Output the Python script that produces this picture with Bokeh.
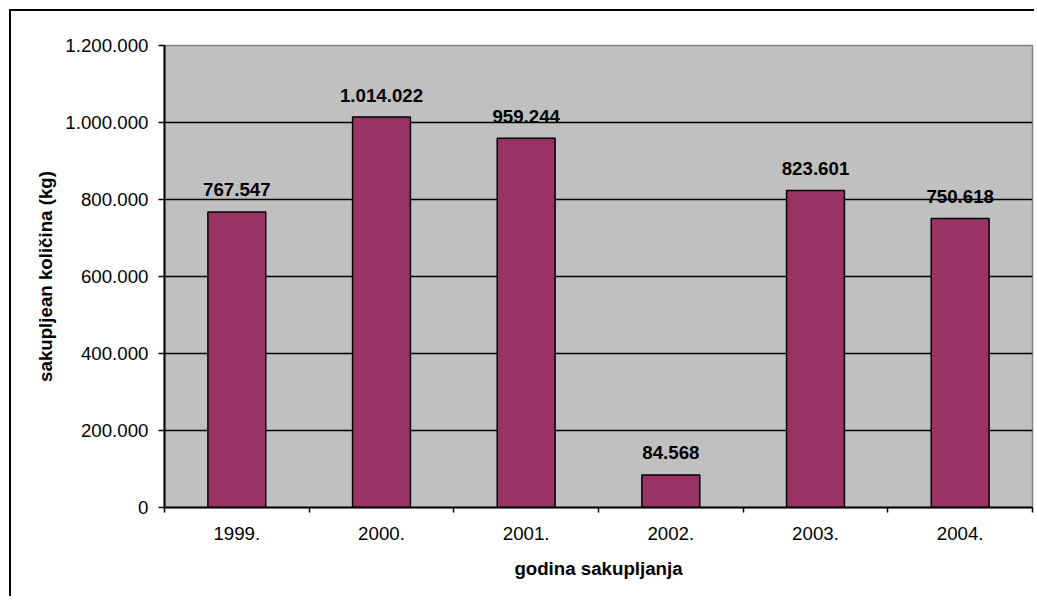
from bokeh.plotting import figure
from bokeh.models import ColumnDataSource, FixedTicker, Range1d
from bokeh.core.properties import value
from bokeh.embed import file_html
from bokeh.resources import INLINE

years = ["1999.", "2000.", "2001.", "2002.", "2003.", "2004."]
amounts = [767547, 1014022, 959244, 84568, 823601, 750618]
y_ticks = [0, 200000, 400000, 600000, 800000, 1000000, 1200000]
y_tick_labels = ["0", "200.000", "400.000", "600.000", "800.000", "1.000.000", "1.200.000"]

FONT = "Liberation Sans"
FS = "18.7px"

xs = [i + 0.5 for i in range(len(years))]
labels = [f"{v:,}".replace(",", ".") for v in amounts]
src = ColumnDataSource(dict(x=xs, top=amounts, label=labels))

p = figure(width=1025, height=587, output_backend="svg", toolbar_location=None,
           x_range=Range1d(0, len(years)), y_range=Range1d(0, 1200000),
           min_border_left=153, min_border_right=4, min_border_top=34, min_border_bottom=91)
p.styles = {"margin-left": "9px", "margin-top": "9px",
            "border-left": "2px solid black", "border-top": "2px solid black"}

p.background_fill_color = "#C0C0C0"
p.border_fill_color = "white"
p.outline_line_color = "#808080"
p.outline_line_width = 1.5

p.vbar(x="x", top="top", width=0.4, bottom=0, source=src,
       fill_color="#993366", line_color="black", line_width=1.5)

p.text(x="x", y="top", text="label", source=src, y_offset=-22,
       text_align="center", text_baseline="alphabetic",
       text_font=value(FONT), text_font_size=FS, text_font_style="bold",
       text_color="black")

# y axis
p.yaxis.ticker = FixedTicker(ticks=y_ticks)
p.yaxis.major_label_overrides = {t: l for t, l in zip(y_ticks, y_tick_labels)}
p.yaxis.minor_tick_line_color = None
p.yaxis.major_tick_in = 0
p.yaxis.major_tick_out = 6
p.yaxis.major_tick_line_color = "black"
p.yaxis.major_tick_line_width = 1.5
p.yaxis.axis_line_color = "black"
p.yaxis.axis_line_width = 2
p.yaxis.major_label_standoff = 10
p.yaxis.major_label_text_font = FONT
p.yaxis.major_label_text_font_size = FS
p.yaxis.major_label_text_color = "black"
p.yaxis.axis_label = "sakupljean količina (kg)"
p.yaxis.axis_label_text_font = FONT
p.yaxis.axis_label_text_font_size = FS
p.yaxis.axis_label_text_font_style = "bold"
p.yaxis.axis_label_text_color = "black"
p.yaxis.axis_label_standoff = 6

# x axis
p.xaxis.ticker = FixedTicker(ticks=xs, minor_ticks=list(range(len(years) + 1)))
p.xaxis.major_label_overrides = {x: y for x, y in zip(xs, years)}
p.xaxis.major_tick_in = 0
p.xaxis.major_tick_out = 0
p.xaxis.minor_tick_in = 0
p.xaxis.minor_tick_out = 5
p.xaxis.minor_tick_line_color = "black"
p.xaxis.minor_tick_line_width = 1.5
p.xaxis.axis_line_color = "black"
p.xaxis.axis_line_width = 2
p.xaxis.major_label_standoff = 14
p.xaxis.major_label_text_font = FONT
p.xaxis.major_label_text_font_size = FS
p.xaxis.major_label_text_color = "black"
p.xaxis.axis_label = "godina sakupljanja"
p.xaxis.axis_label_text_font = FONT
p.xaxis.axis_label_text_font_size = FS
p.xaxis.axis_label_text_font_style = "bold"
p.xaxis.axis_label_text_color = "black"
p.xaxis.axis_label_standoff = 15

p.xgrid.grid_line_color = None
p.ygrid.ticker = FixedTicker(ticks=y_ticks[1:-1])
p.ygrid.grid_line_color = "black"
p.ygrid.grid_line_width = 1.3

open("out.html", "w").write(file_html(p, INLINE))
